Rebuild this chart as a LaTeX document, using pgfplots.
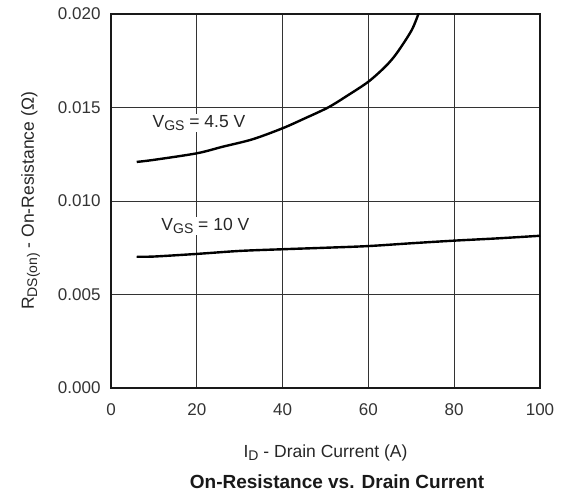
\documentclass[border=0pt]{standalone}
\usepackage{pgfplots}
\pgfplotsset{compat=1.18}
\usepackage{fontspec}
\setmainfont{Liberation Sans}
\newcommand{\sub}[1]{\raisebox{-0.35ex}{\fontsize{14}{14}\selectfont #1}}
\begin{document}
\begin{tikzpicture}[x=1pt,y=1pt]
\path (-111,-109) rectangle (454,388);
\begin{axis}[
  at={(0,0)}, anchor=south west,
  scale only axis, width=429pt, height=374pt,
  xmin=0, xmax=100, ymin=0, ymax=0.020,
  xtick={0,20,40,60,80,100},
  ytick={0,0.005,0.010,0.015,0.020},
  yticklabel style={/pgf/number format/fixed, /pgf/number format/fixed zerofill, /pgf/number format/precision=3},
  /pgf/number format/assume math mode=true,
  scaled y ticks=false,
  grid=major,
  major grid style={black!80, line width=0.8pt},
  axis line style={line width=2pt, black!90},
  tick style={draw=none},
  ticklabel style={font=\fontsize{17}{17}\selectfont, text=black!80},
  xticklabel style={yshift=-12pt},
  yticklabel style={xshift=-7pt},
  xlabel={I\sub{D} - Drain Current (A)},
  ylabel={R\sub{DS(on)} - On-Resistance (Ω)},
  label style={font=\fontsize{17.5}{18}\selectfont, text=black!85},
  xlabel style={yshift=-22pt},
  ylabel style={yshift=11pt},
  clip=true,
]
\addplot[black, line width=2.4pt, smooth] coordinates {
  (6,0.01209) (10,0.01220) (20,0.01255) (26,0.01290) (33,0.01330)
  (40,0.01389) (45,0.01440) (50.6,0.01500) (55,0.01562) (60,0.01638)
  (64,0.01720) (66.6,0.01790) (70.1,0.01914) (71.8,0.02010)
};
\addplot[black, line width=2.4pt, smooth] coordinates {
  (6,0.00702) (10,0.00703) (20,0.00717) (30,0.00733) (40,0.00742)
  (50,0.00750) (60,0.00759) (70,0.00774) (80,0.00788) (90,0.00800) (100,0.00814)
};
\node[fill=white, inner sep=1pt, font=\fontsize{17.5}{18}\selectfont, text=black!85] at (axis cs:20.5,0.01417) {V\sub{GS} = 4.5 V};
\node[fill=white, inner sep=1pt, font=\fontsize{17.5}{18}\selectfont, text=black!85] at (axis cs:22,0.00866) {V\sub{GS} = 10 V};
\end{axis}
\node[font=\bfseries\fontsize{19}{19}\selectfont, text=black!90] at (226,-94) {On-Resistance vs. Drain Current};
\end{tikzpicture}
\end{document}
